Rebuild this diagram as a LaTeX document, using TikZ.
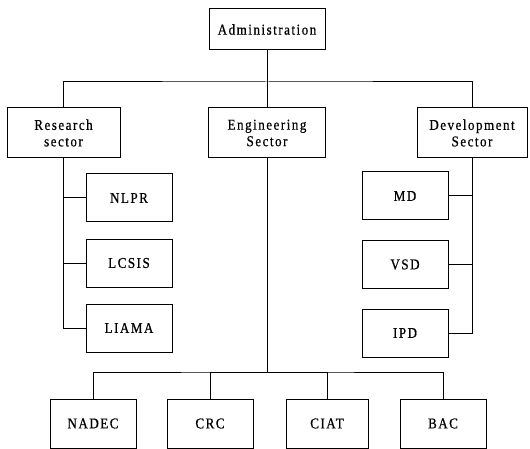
\documentclass[tikz,border=0pt]{standalone}
\usepackage{fontspec}
\setmainfont{Liberation Serif}[LetterSpace=10,FakeStretch=0.87,FakeBold=0.6]
\begin{document}
\begin{tikzpicture}[x=1pt,y=-1pt,
  box/.style={draw,line width=1pt,minimum height=48pt,inner sep=0pt,align=center,
    font=\fontsize{15}{16.5}\selectfont},
  conn/.style={line width=1pt}]
\useasboundingbox (0,0) rectangle (530,449);
\node[box,minimum width=116pt,minimum height=41pt] (adm) at (267,29.5) {Administration};
\node[box,minimum width=113pt,minimum height=50pt] (res) at (63.5,133) {Research\\sector};
\node[box,minimum width=117pt,minimum height=50pt] (eng) at (267,133) {Engineering\\Sector};
\node[box,minimum width=110pt,minimum height=50pt] (dev) at (472,133) {Development\\Sector};
\node[box,minimum width=86pt] (nlpr) at (129,198) {NLPR};
\node[box,minimum width=86pt] (lcsis) at (129,263) {LCSIS};
\node[box,minimum width=86pt] (liama) at (129,328) {LIAMA};
\node[box,minimum width=86pt] (md) at (405,196) {MD};
\node[box,minimum width=86pt] (vsd) at (405,264.5) {VSD};
\node[box,minimum width=86pt] (ipd) at (405,333) {IPD};
\node[box,minimum width=86pt,minimum height=49pt] (nadec) at (93,423.5) {NADEC};
\node[box,minimum width=86pt,minimum height=49pt] (crc) at (210,423.5) {CRC};
\node[box,minimum width=82pt,minimum height=49pt] (ciat) at (327,423.5) {CIAT};
\node[box,minimum width=86pt,minimum height=49pt] (bac) at (443,423.5) {BAC};
\coordinate (top) at (267,82);
\coordinate (bot) at (267,372);
\draw[conn] (adm.south) -- (top);
\draw[conn] (res.north) |- (top) -| (dev.north);
\draw[conn] (top) -- (eng.north);
\draw[conn] (res.south) |- (nlpr.west);
\draw[conn] (res.south) |- (lcsis.west);
\draw[conn] (res.south) |- (liama.west);
\draw[conn] (dev.south) |- (md.east);
\draw[conn] (dev.south) |- (vsd.east);
\draw[conn] (dev.south) |- (ipd.east);
\draw[conn] (eng.south) -- (bot);
\draw[conn] (nadec.north) |- (bot) -| (bac.north);
\draw[conn] (crc.north) |- (bot);
\draw[conn] (ciat.north) |- (bot);
\end{tikzpicture}
\end{document}
